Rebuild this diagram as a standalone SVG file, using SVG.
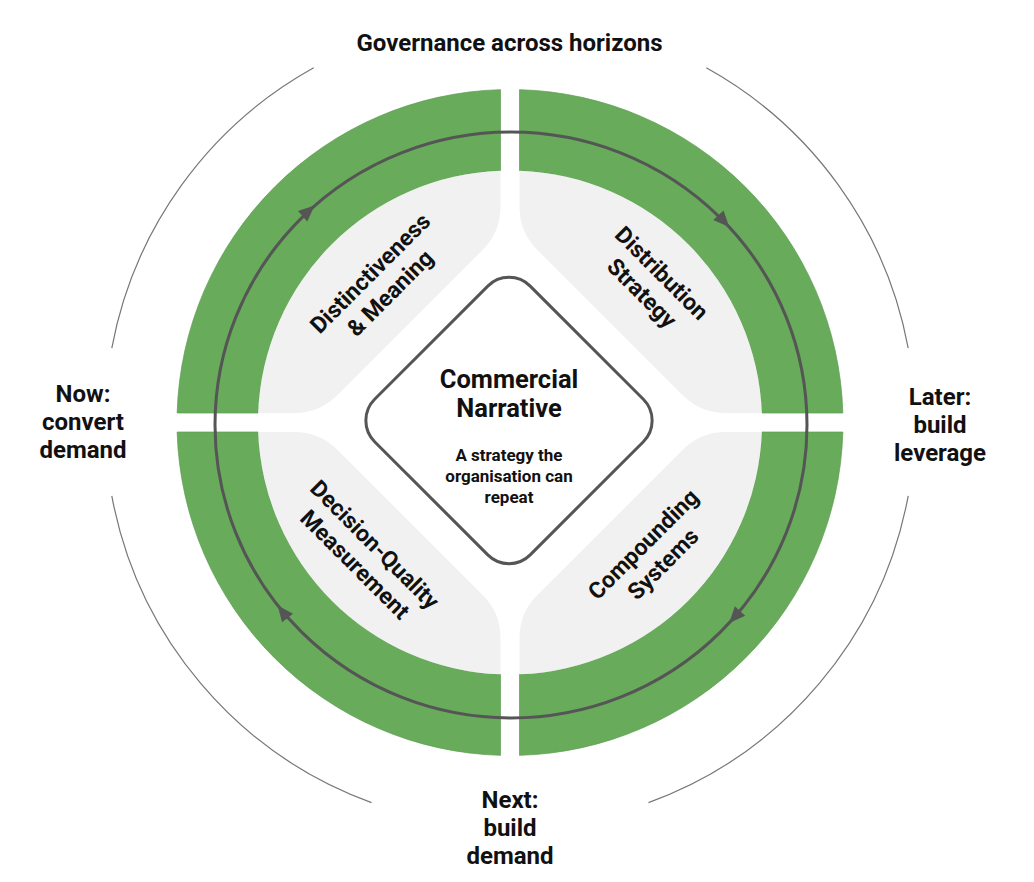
<svg xmlns="http://www.w3.org/2000/svg" xmlns:xlink="http://www.w3.org/1999/xlink" width="1034" height="882" viewBox="0 0 1034 882">
  <style>
    .green { fill: #67ab5b; stroke: #5e9e52; stroke-width: 0.7; }
    .gray { fill: #f1f1f1; }
    .lbl { font-family: Roboto, "Liberation Sans", sans-serif; font-weight: 700; font-size: 24px; fill: #111; text-anchor: middle; }
    .ql { font-size: 23px; }
    .title { font-size: 25.5px; }
    .sub { font-family: Roboto, "Liberation Sans", sans-serif; font-weight: 700; font-size: 17px; fill: #111; text-anchor: middle; }
    .ring { fill: none; stroke: #555; stroke-width: 3; }
    .outer { fill: none; stroke: #777; stroke-width: 1.2; }
    .arrow { fill: #555; }
  </style>
  <defs>
    <path id="greenQ" d="M 9.5,-332.86 A 333 333 0 0 1 332.86,-9.5 L 251.82,-9.5 A 252 252 0 0 0 9.5,-251.82 Z"/>
    <path id="grayQ" d="M 9.5,-251.82 A 252 252 0 0 1 251.82,-9.5 L 215.5,-9.5 Q 190.5,-9.5 172.82,-27.18 L 27.18,-172.82 Q 9.5,-190.5 9.5,-215.5 Z"/>
    <path id="ah" d="M 0,0 L -16,-7 L -16,7 Z"/>
  </defs>
  <rect width="1034" height="882" fill="#ffffff"/>

  <g id="q-distinctiveness">
    <use xlink:href="#greenQ" class="green" transform="translate(510,422.5) scale(-1,1)"/>
    <use xlink:href="#grayQ" class="gray" transform="translate(510,422.5) scale(-1,1)"/>
    <g transform="translate(380,283) rotate(-45)">
      <text class="lbl ql" x="0" y="-6">Distinctiveness</text>
      <text class="lbl ql" x="0" y="22">&amp; Meaning</text>
    </g>
  </g>
  <g id="q-distribution">
    <use xlink:href="#greenQ" class="green" transform="translate(510,422.5)"/>
    <use xlink:href="#grayQ" class="gray" transform="translate(510,422.5)"/>
    <g transform="translate(652,283) rotate(45)">
      <text class="lbl ql" x="0" y="-6">Distribution</text>
      <text class="lbl ql" x="0" y="22">Strategy</text>
    </g>
  </g>
  <g id="q-decision">
    <use xlink:href="#greenQ" class="green" transform="translate(510,422.5) scale(-1,-1)"/>
    <use xlink:href="#grayQ" class="gray" transform="translate(510,422.5) scale(-1,-1)"/>
    <g transform="translate(365,554.5) rotate(45)">
      <text class="lbl ql" x="0" y="-6">Decision-Quality</text>
      <text class="lbl ql" x="0" y="22">Measurement</text>
    </g>
  </g>
  <g id="q-compounding">
    <use xlink:href="#greenQ" class="green" transform="translate(510,422.5) scale(1,-1)"/>
    <use xlink:href="#grayQ" class="gray" transform="translate(510,422.5) scale(1,-1)"/>
    <g transform="translate(653,554) rotate(-45)">
      <text class="lbl ql" x="0" y="-6">Compounding</text>
      <text class="lbl ql" x="0" y="22">Systems</text>
    </g>
  </g>

  <g id="connectors">
    <ellipse class="ring" cx="511" cy="425" rx="296" ry="293"/>
    <use xlink:href="#ah" class="arrow" transform="translate(314.6,205.6) rotate(-41.5)"/>
    <use xlink:href="#ah" class="arrow" transform="translate(729.2,227.1) rotate(47.5)"/>
    <use xlink:href="#ah" class="arrow" transform="translate(729.2,622.9) rotate(132.5)"/>
    <use xlink:href="#ah" class="arrow" transform="translate(277.7,605.4) rotate(232)"/>
  </g>

  <g id="governance">
    <path class="outer" d="M 313.7,67.8 A 405 405 0 0 0 111.8,348.2"/>
    <path class="outer" d="M 111.8,495.8 A 405 405 0 0 0 371.5,802.6"/>
    <path class="outer" d="M 648.5,802.6 A 405 405 0 0 0 908.2,495.8"/>
    <path class="outer" d="M 908.2,348.2 A 405 405 0 0 0 706.3,67.8"/>
    <text class="lbl" x="509.5" y="51">Governance across horizons</text>
  </g>

  <g id="h-now">
    <text class="lbl" x="83" y="401.5">Now:</text>
    <text class="lbl" x="83" y="429.5">convert</text>
    <text class="lbl" x="83" y="457.5">demand</text>
  </g>
  <g id="h-later">
    <text class="lbl" x="940" y="404.5">Later:</text>
    <text class="lbl" x="940" y="432.5">build</text>
    <text class="lbl" x="940" y="460.5">leverage</text>
  </g>
  <g id="h-next">
    <text class="lbl" x="510" y="808">Next:</text>
    <text class="lbl" x="510" y="836">build</text>
    <text class="lbl" x="510" y="864">demand</text>
  </g>

  <g id="center">
    <rect x="-110" y="-110" width="220" height="220" rx="30" fill="#ffffff" stroke="#555" stroke-width="3" transform="translate(509,420.5) rotate(45)"/>
    <text class="lbl title" x="509" y="388">Commercial</text>
    <text class="lbl title" x="509" y="416.5">Narrative</text>
    <text class="sub" x="509" y="460.5">A strategy the</text>
    <text class="sub" x="509" y="481.5">organisation can</text>
    <text class="sub" x="509" y="502.5">repeat</text>
  </g>
</svg>
